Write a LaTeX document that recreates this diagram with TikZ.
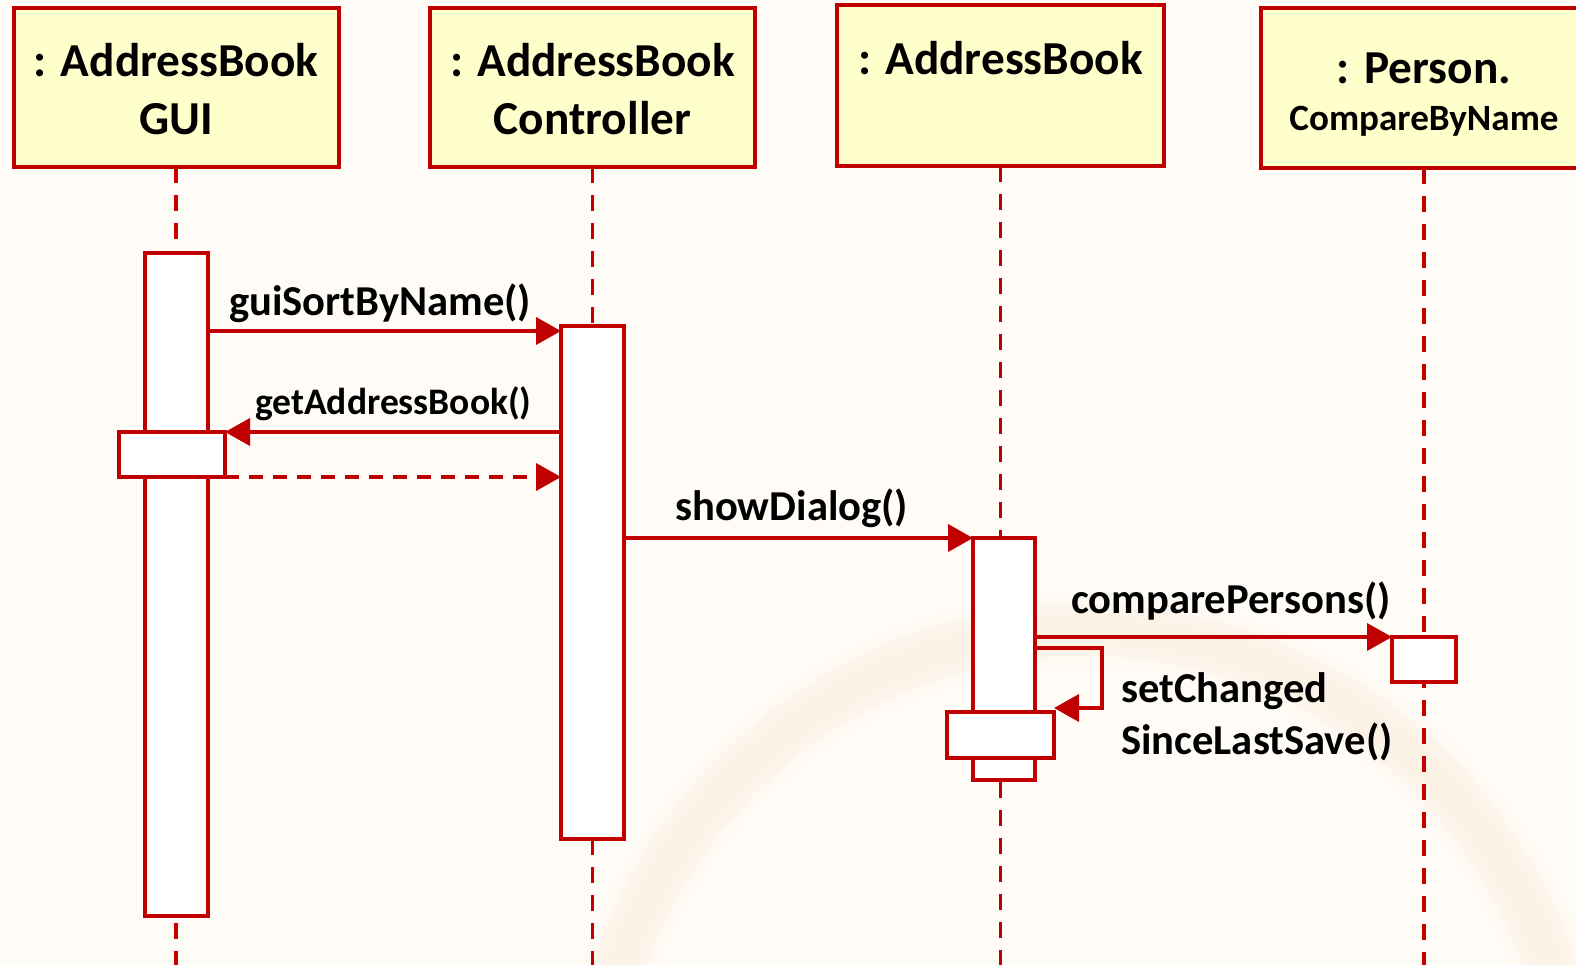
\documentclass[tikz,border=0pt]{standalone}
\usepackage{fontspec}
\setmainfont{Carlito}
\usetikzlibrary{arrows.meta}
\definecolor{umlred}{HTML}{C00000}
\definecolor{hdrfill}{HTML}{FFFFCC}
\definecolor{paper}{HTML}{FFFCF8}
\definecolor{ringtint}{HTML}{FCEEDA}

\begin{document}
\begin{tikzpicture}[x=1pt,y=-1pt,
  hdr/.style={draw=umlred, fill=hdrfill, line width=4pt, minimum width=325pt,
              minimum height=159pt, inner sep=0pt, outer sep=0pt},
  act/.style={draw=umlred, fill=white, line width=3.8pt, inner sep=0pt, outer sep=0pt},
  lifeline/.style={draw=umlred, line width=3.8pt, dash pattern=on 16pt off 12pt},
  msg/.style={draw=umlred, line width=3.8pt, -{Triangle[length=25pt,width=27pt]}},
  ret/.style={msg, dash pattern=on 14pt off 10pt},
  loopline/.style={msg, line join=miter},
  hdrtext/.style={font=\fontsize{47.3}{57}\selectfont\bfseries, anchor=base, inner sep=0pt},
  subtext/.style={font=\fontsize{37.1}{44}\selectfont\bfseries, anchor=base, inner sep=0pt},
  msgtext/.style={font=\fontsize{42.6}{51}\selectfont\bfseries, anchor=base west, inner sep=0pt},
  smalltext/.style={msgtext, font=\fontsize{37.5}{45}\selectfont\bfseries},
]
\useasboundingbox (0,0) rectangle (1576,965);
\clip (0,0) rectangle (1576,965);

% paper and faint decorative ring
\fill[paper] (0,0) rectangle (1576,965);
\draw[ringtint, line width=72pt, opacity=0.2] (1085,1120) circle[radius=490];
\draw[ringtint, line width=52pt, opacity=0.28] (1085,1120) circle[radius=490];
\draw[ringtint, line width=32pt, opacity=0.28] (1085,1120) circle[radius=490];

% object headers
\node[hdr] (h1) at (176,87.5) {};
\node[hdr] (h2) at (592.5,87.5) {};
\node[hdr, minimum width=327pt, minimum height=161pt] (h3) at (1000.5,85.5) {};
\node[hdr, minimum width=326pt, minimum height=160pt] (h4) at (1424,88) {};

\node[hdrtext] (h1a) at (h1 |- 0,77) {: AddressBook};
\node[hdrtext] (h1b) at (h1 |- 0,135) {GUI};
\node[hdrtext] (h2a) at (h2 |- 0,77) {: AddressBook};
\node[hdrtext] (h2b) at (h2 |- 0,135) {Controller};
\node[hdrtext] (h3a) at (h3 |- 0,75) {: AddressBook};
\node[hdrtext] (h4a) at (h4 |- 0,84) {: Person.};
\node[subtext] (h4b) at (h4 |- 0,131) {CompareByName};

% lifeline ends below the picture edge
\coordinate (e1) at (h1.south |- 0,975);
\coordinate (e2) at (h2.south |- 0,975);
\coordinate (e3) at (h3.south |- 0,975);
\coordinate (e4) at (h4.south |- 0,975);

\draw[lifeline] (h1.south) -- (e1);
\draw[lifeline] (h2.south) -- (e2);
\draw[lifeline] (h3.south) -- (e3);
\draw[lifeline] (h4.south) -- (e4);

% activation bars
\node[act, minimum width=63pt, minimum height=663pt] (a1) at (176.5,584.5) {};
\node[act, minimum width=106pt, minimum height=45pt] (g2) at (172,454.5) {};
\node[act, minimum width=63pt, minimum height=513pt] (a2) at (592.5,582.5) {};
\node[act, minimum width=62pt, minimum height=242pt] (a3) at (1004,659) {};
\node[act, minimum width=107pt, minimum height=46pt] (a3b) at (1000.5,735) {};
\node[act, minimum width=64pt, minimum height=45pt] (a4) at (1424,659.5) {};

% messages
\draw[msg] (a1.east |- 0,331) -- (a2.west |- 0,331);
\draw[msg] (a2.west |- g2.north east) -- (g2.north east);
\draw[ret] (g2.south east) -- (a2.west |- g2.south east);
\draw[msg] (a2.east |- a3.north west) -- (a3.north west);
\draw[msg] (a3.east |- a4.north west) -- (a4.north west);

\coordinate (s1) at (1102,648);
\coordinate (s2) at (1102,708);
\draw[loopline] (a3.east |- s1) -- (s1) -- (s2) -- (a3b.east |- s2);

% message labels
\node[msgtext] (t1) at (229,316) {guiSortByName()};
\node[smalltext] (t2) at (255,414) {getAddressBook()};
\node[msgtext] (t3) at (675,520) {showDialog()};
\node[msgtext] (t4) at (1071,613) {comparePersons()};
\node[msgtext] (t5) at (1121,702) {setChanged};
\node[msgtext] (t6) at (1121,754) {SinceLastSave()};
\end{tikzpicture}
\end{document}
